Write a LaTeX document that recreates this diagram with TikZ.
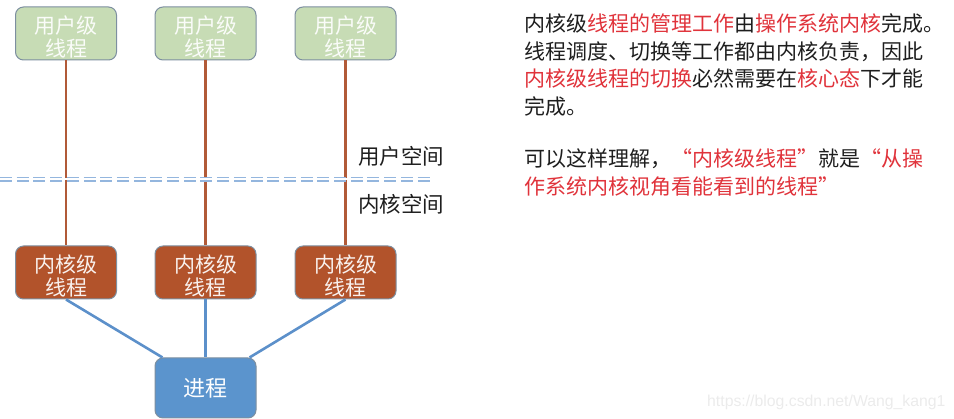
\documentclass[tikz,border=0pt]{standalone}
\usepackage{fontspec}
\setmainfont{Noto Sans CJK SC}
\newfontfamily\wmfont{Liberation Sans}
\definecolor{ugreen}{HTML}{C7DCB5}
\definecolor{kbrown}{HTML}{B2532B}
\definecolor{pblue}{HTML}{5B94CD}
\definecolor{boxborder}{HTML}{7D8FA0}
\definecolor{bline}{HTML}{B15A38}
\definecolor{blline}{HTML}{5C90CA}
\definecolor{dashc}{HTML}{94B6DE}
\definecolor{txt}{HTML}{1E1E1E}
\definecolor{hl}{HTML}{E0333B}
\tikzset{
  box/.style={draw=boxborder, line width=1pt, rounded corners=8pt, minimum width=101pt, minimum height=53pt, inner sep=0pt, align=center, font=\fontsize{21}{23}\selectfont},
  ubox/.style={box, fill=ugreen, text=white!92!ugreen},
  kbox/.style={box, fill=kbrown, text=white!92!kbrown},
  pbox/.style={box, fill=pblue, text=white, minimum height=60pt, font=\fontsize{22}{23}\selectfont},
  brownline/.style={draw=bline, line width=2.4pt},
  blueline/.style={draw=blline, line width=2.6pt},
  para/.style={anchor=north west, align=left, inner sep=0pt, text=txt, font=\fontsize{21}{27.6}\selectfont},
  spacelabel/.style={anchor=west, inner sep=0pt, text=txt, font=\fontsize{21.5}{21.5}\selectfont},
}
\begin{document}
\begin{tikzpicture}[x=1pt,y=-1pt]
\useasboundingbox (0,0) rectangle (954,419);
% connectors drawn first (behind boxes)
\node[ubox] (u1) at (66,33.5) {\rule{0pt}{24pt}用户级\\线程};
\node[ubox] (u2) at (205.5,33.5) {\rule{0pt}{24pt}用户级\\线程};
\node[ubox] (u3) at (345.5,33.5) {\rule{0pt}{24pt}用户级\\线程};
\node[kbox] (k1) at (66,272.5) {\rule{0pt}{24pt}内核级\\线程};
\node[kbox] (k2) at (205.5,272.5) {\rule{0pt}{24pt}内核级\\线程};
\node[kbox] (k3) at (345.5,272.5) {\rule{0pt}{24pt}内核级\\线程};
\node[pbox] (p) at (205.5,388) {进程};
\draw[brownline] (u1.south) -- (k1.north);
\draw[brownline] (u2.south) -- (k2.north);
\draw[brownline] (u3.south) -- (k3.north);
\draw[blueline] (k1.south) -- ([xshift=8pt]p.north west);
\draw[blueline] (k2.south) -- (p.north);
\draw[blueline] (k3.south) -- ([xshift=-7pt]p.north east);
% boundary line
\coordinate (bl) at (0,179.3);
\coordinate (br) at (432,179.3);
\draw[draw=dashc, line width=5.2pt, dash pattern=on 12pt off 4.7pt] (bl) -- (br);
\draw[draw=white, line width=1.6pt] (bl) -- (br);
\node[spacelabel] (us) at (358,156) {用户空间};
\node[spacelabel] (ks) at (358,204.5) {内核空间};
% explanation
\node[para] (t1) at (524,13.5) {内核级\textcolor{hl}{线程的管理工作}由\textcolor{hl}{操作系统内核}完成。\\
线程调度、切换等工作都由内核负责，因此\\
\textcolor{hl}{内核级线程的切换}必然需要在\textcolor{hl}{核心态}下才能\\
完成。};
\node[para] (t2) at (524,148.5) {可以这样理解，\textcolor{hl}{“内核级线程”}就是\textcolor{hl}{“从操}\\
\textcolor{hl}{作系统内核视角看能看到的线程”}};
% watermark
\node[anchor=west, inner sep=0pt, text=black!8, font=\wmfont\fontsize{15.8}{15.8}\selectfont] (wm) at (707,402) {https://blog.csdn.net/Wang\_kang1};
\end{tikzpicture}
\end{document}
